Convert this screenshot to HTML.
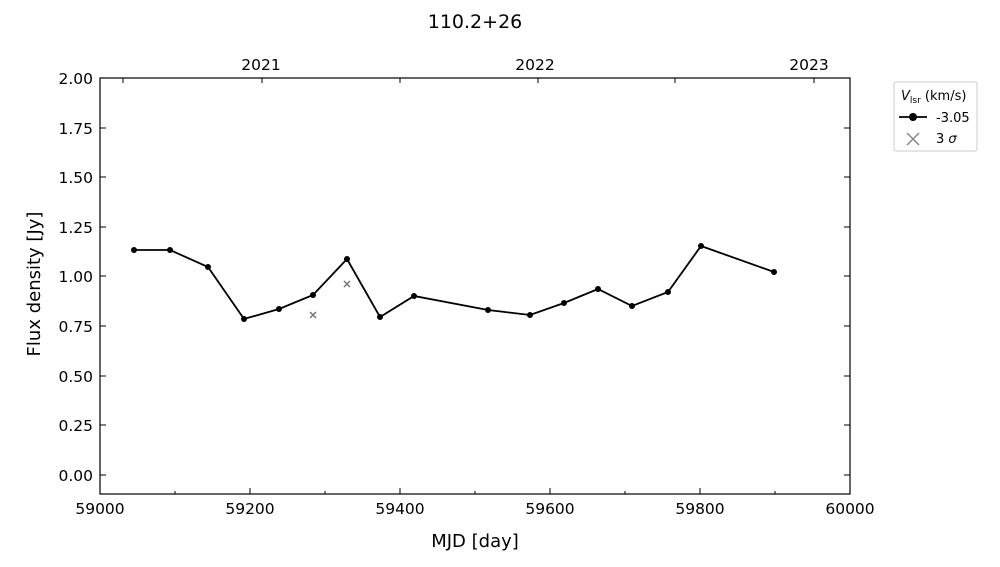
<!DOCTYPE html><html><head><style>body{margin:0;background:#fff}svg text{font-family:"DejaVu Sans",sans-serif}</style></head><body>
<svg width="1000" height="562" xmlns="http://www.w3.org/2000/svg">
<text x="475" y="28" font-size="19" text-anchor="middle">110.2+26</text>
<rect x="100" y="78" width="750" height="416" fill="none" stroke="#000" stroke-width="1.2"/>
<g stroke="#000" stroke-width="1">
<path d="M100,494v-6M175,494v-3M250,494v-6M325,494v-3M400,494v-6M475,494v-3M550,494v-6M625,494v-3M700,494v-6M775,494v-3M850,494v-6"/>
<path d="M123,78v5M262,78v5M400,78v5M538,78v5M675,78v5M814,78v5"/>
<path d="M100,78h6M100,128h6M100,177h6M100,227h6M100,276h6M100,326h6M100,376h6M100,425h6M100,475h6"/>
<path d="M850,78h-6M850,128h-6M850,177h-6M850,227h-6M850,276h-6M850,326h-6M850,376h-6M850,425h-6M850,475h-6"/>
</g>
<g font-size="15.5" text-anchor="end">
<text x="93" y="84">2.00</text><text x="93" y="134">1.75</text><text x="93" y="183">1.50</text><text x="93" y="233">1.25</text><text x="93" y="282">1.00</text><text x="93" y="332">0.75</text><text x="93" y="382">0.50</text><text x="93" y="431">0.25</text><text x="93" y="481">0.00</text>
</g>
<g font-size="15.5" text-anchor="middle">
<text x="100" y="514">59000</text><text x="250" y="514">59200</text><text x="400" y="514">59400</text><text x="550" y="514">59600</text><text x="700" y="514">59800</text><text x="850" y="514">60000</text>
<text x="261" y="70">2021</text><text x="535" y="70">2022</text><text x="809" y="70">2023</text>
</g>
<text x="475" y="547" font-size="18" text-anchor="middle">MJD [day]</text>
<text transform="translate(40,284) rotate(-90)" font-size="18" text-anchor="middle">Flux density [Jy]</text>
<polyline fill="none" stroke="#000" stroke-width="1.8" points="134,250 170,250 208,267 244,319 279,309 313,295 347,259 380,317 414,296 488,310 530,315 564,303 598,289 632,306 668,292 701,246 774,272"/>
<g fill="#000">
<circle cx="134" cy="250" r="3"/><circle cx="170" cy="250" r="3"/><circle cx="208" cy="267" r="3"/><circle cx="244" cy="319" r="3"/><circle cx="279" cy="309" r="3"/><circle cx="313" cy="295" r="3"/><circle cx="347" cy="259" r="3"/><circle cx="380" cy="317" r="3"/><circle cx="414" cy="296" r="3"/><circle cx="488" cy="310" r="3"/><circle cx="530" cy="315" r="3"/><circle cx="564" cy="303" r="3"/><circle cx="598" cy="289" r="3"/><circle cx="632" cy="306" r="3"/><circle cx="668" cy="292" r="3"/><circle cx="701" cy="246" r="3"/><circle cx="774" cy="272" r="3"/>
</g>
<g stroke="#777" stroke-width="1.5"><path d="M310,312l6,6M316,312l-6,6M344,281l6,6M350,281l-6,6"/></g>
<rect x="894" y="82" width="83" height="69" fill="#fff" stroke="#ccc" rx="2"/>
<text x="901" y="100" font-size="13"><tspan font-style="italic">V</tspan><tspan font-size="9" dy="3">lsr</tspan><tspan dy="-3"> (km/s)</tspan></text>
<line x1="899" y1="117" x2="927" y2="117" stroke="#000" stroke-width="1.8"/><circle cx="913" cy="117" r="4"/>
<text x="936" y="122" font-size="13">-3.05</text>
<path d="M907,133l12,12M919,133l-12,12" stroke="#888" stroke-width="1.5"/>
<text x="936" y="143" font-size="13">3 <tspan font-style="italic">σ</tspan></text>
</svg></body></html>
